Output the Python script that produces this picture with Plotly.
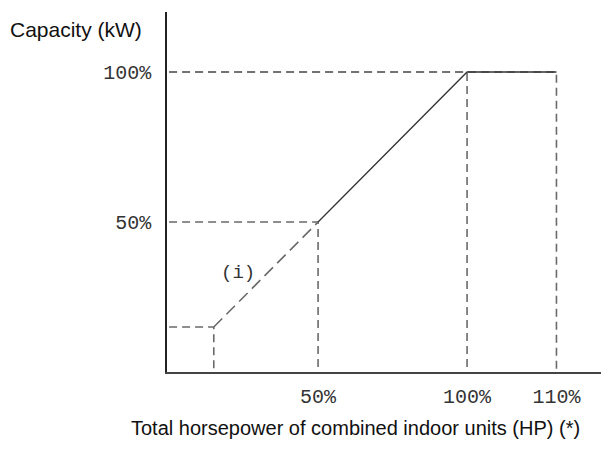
import plotly.graph_objects as go

# capacity curve (schematic positions in % of axis)
hp_pos = [15, 50, 100, 130]
cap_pct = [15, 50, 100, 100]

x_tick_pos = [50, 100, 130]
x_tick_text = ["50%", "100%", "110%"]
y_tick_pos = [50, 100]
y_tick_text = ["50%", "100%"]

DASH_COLOR = "#6a6a6a"
LINE_COLOR = "#333333"
MONO = "Liberation Mono"

# page has an 8px body margin, so the figure is drawn 8px smaller
W, H = 601, 451
L, R, T, B = 159, 1, 4, 87
PW, PH = W - L - R, H - T - B


def px_to_paper(px, py):
    """window pixel -> paper coords"""
    fx, fy = px - 8, py - 8
    return (fx - L) / PW, (H - B - fy) / PH


fig = go.Figure()

# dashed guide lines from each breakpoint to the axes
for x, y in zip(hp_pos, cap_pct):
    fig.add_trace(go.Scatter(
        x=[0, x, x], y=[y, y, 0], mode="lines",
        line=dict(color=DASH_COLOR, width=1.6, dash="8px,5px"),
        hoverinfo="skip", showlegend=False,
    ))

# dashed part of the curve (i)
fig.add_trace(go.Scatter(
    x=hp_pos[:2], y=cap_pct[:2], mode="lines",
    line=dict(color=DASH_COLOR, width=1.6, dash="12px,6px"),
    showlegend=False,
))
# solid part
fig.add_trace(go.Scatter(
    x=hp_pos[1:], y=cap_pct[1:], mode="lines",
    line=dict(color=LINE_COLOR, width=1.3),
    showlegend=False,
))

fig.add_annotation(x=23, y=33, text="(i)", showarrow=False,
                   font=dict(family=MONO, size=19, color="#333"))

cx, cy = px_to_paper(76, 29)
fig.add_annotation(x=cx, y=cy, xref="paper", yref="paper", text="Capacity (kW)",
                   showarrow=False, xanchor="center", yanchor="middle",
                   font=dict(family="Liberation Sans", size=21, color="#111"))
tx, ty = px_to_paper(355, 428)
fig.add_annotation(x=tx, y=ty, xref="paper", yref="paper",
                   text="Total horsepower of combined indoor units (HP) (*)",
                   showarrow=False, xanchor="center", yanchor="middle",
                   font=dict(family="Liberation Sans", size=20, color="#111"))

fig.update_layout(
    width=W, height=H,
    margin=dict(l=L, r=R, t=T, b=B),
    plot_bgcolor="white", paper_bgcolor="white",
    xaxis=dict(range=[-0.7, 147.3], showgrid=False, zeroline=False,
               showline=True, linecolor="#444", linewidth=1.5,
               tickvals=x_tick_pos, ticktext=x_tick_text, ticks="",
               ticklabelstandoff=5,
               tickfont=dict(family=MONO, size=20, color="#333")),
    yaxis=dict(range=[0, 120], showgrid=False, zeroline=False,
               showline=True, linecolor="#222", linewidth=1.5,
               tickvals=y_tick_pos, ticktext=y_tick_text, ticks="",
               ticklabelstandoff=10,
               tickfont=dict(family=MONO, size=20, color="#333")),
)

fig.write_html("out.html")
